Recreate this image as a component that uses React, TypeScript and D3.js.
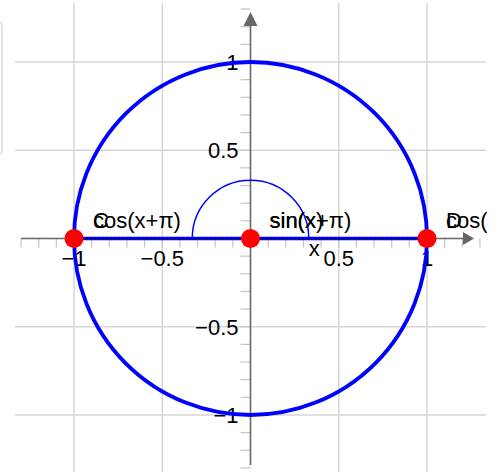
import React from 'react';
import * as d3 from 'd3';

// ticks and labels on the axes
const gridValues = [-1, -0.5, 0.5, 1];
const xTickLabels = ['−1', '−0.5', '0.5', '1'];
const yTickLabels = ['−1', '−0.5', '0.5', '1'];
const minorTicks = d3.range(-13, 14).map(i => i / 10);

// objects of the construction
const unitRadius = 1;
const angleRadius = 0.33;
const segment = [[-1, 0], [1, 0]];
const points = [
  { name: 'C', x: -1, y: 0 },
  { name: 'O', x: 0, y: 0 },
  { name: 'D', x: 1, y: 0 },
];
const pointCaptions = [
  ['C', 'cos(x+π)'],
  ['sin(x)', 'sin(x+π)'],
  ['D', 'cos(x)'],
];
const angleLabel = { text: 'x', x: 0.33, y: -0.1 };

const W = 498;
const H = 472;
const font = 'Liberation Sans, Arial, sans-serif';
const fs = 22;

export default function App() {
  const x = d3.scaleLinear().domain([-1, 1]).range([74, 427]);
  const y = d3.scaleLinear().domain([-1, 1]).range([415, 62]);
  const x0 = x(0);
  const y0 = y(0);
  const unit = x(1) - x(0);

  const circle = d3.arc()({
    innerRadius: unitRadius * unit,
    outerRadius: unitRadius * unit,
    startAngle: 0,
    endAngle: 2 * Math.PI,
  });
  const angleArc = d3.arc()({
    innerRadius: angleRadius * unit,
    outerRadius: angleRadius * unit,
    startAngle: -Math.PI / 2,
    endAngle: Math.PI / 2,
  });
  const line = d3.line().x(d => x(d[0])).y(d => y(d[1]));

  return (
    <svg width={W} height={H} style={{ position: 'absolute', left: 0, top: 0, display: 'block', background: '#fff' }}>
      <defs>
        <clipPath id="view">
          <rect x={15} y={3} width={472} height={469} />
        </clipPath>
      </defs>
      {/* panel edge at left */}
      <rect x={-20} y={22} width={22} height={133} rx={4} fill="#fff" stroke="#d5d9ea" strokeWidth={1.5} />
      <g clipPath="url(#view)">
        {gridValues.map(v => (
          <line key={'gx' + v} x1={x(v)} x2={x(v)} y1={3} y2={H} stroke="#d6d6d6" strokeWidth={1.5} />
        ))}
        {gridValues.map(v => (
          <line key={'gy' + v} x1={15} x2={486} y1={y(v)} y2={y(v)} stroke="#d6d6d6" strokeWidth={1.5} />
        ))}
        {minorTicks.map(v => (
          <line key={'tx' + v} x1={x(v)} x2={x(v)} y1={y0} y2={y0 + 9} stroke="#c4c4c4" strokeWidth={1.2} />
        ))}
        {minorTicks.map(v => (
          <line key={'ty' + v} x1={x0 - 10} x2={x0} y1={y(v)} y2={y(v)} stroke="#c4c4c4" strokeWidth={1.2} />
        ))}
        <line x1={21} x2={464} y1={y0} y2={y0} stroke="#666" strokeWidth={1.6} />
        <path d={`M${474},${y0} L${463},${y0 - 6.5} L${463},${y0 + 6.5} Z`} fill="#666" />
        <line x1={x0} x2={x0} y1={465} y2={25} stroke="#666" strokeWidth={1.6} />
        <path d={`M${x0},12 L${x0 - 7},26 L${x0 + 7},26 Z`} fill="#666" />
        {gridValues.map((v, i) => (
          <text key={'lx' + v} x={x(v)} y={y0 + 27} textAnchor="middle" fontFamily={font} fontSize={fs} fill="#000">
            {xTickLabels[i]}
          </text>
        ))}
        {gridValues.map((v, i) => (
          <text key={'ly' + v} x={x0 - 12} y={y(v)} dy="0.36em" textAnchor="end" fontFamily={font} fontSize={fs} fill="#000">
            {yTickLabels[i]}
          </text>
        ))}
        <path d={angleArc} transform={`translate(${x0},${y0})`} fill="none" stroke="#0000ff" strokeWidth={1.5} />
        <text x={x(angleLabel.x)} y={y(angleLabel.y)} fontFamily={font} fontSize={fs} fill="#000">{angleLabel.text}</text>
        <path d={circle} transform={`translate(${x0},${y0})`} fill="none" stroke="#0000ff" strokeWidth={3.8} />
        <path d={line(segment)} stroke="#0000ff" strokeWidth={3.5} fill="none" />
        <path d={line(segment)} stroke="#000" strokeWidth={1} strokeDasharray="2,2" fill="none" />
        {points.map(p => (
          <circle key={p.name} cx={x(p.x)} cy={y(p.y)} r={9.5} fill="#ff0000" />
        ))}
        {points.map((p, i) =>
          pointCaptions[i].map(t => (
            <text key={p.name + t} x={x(p.x) + 19} y={y(p.y) - 11} fontFamily={font} fontSize={fs} fill="#000">
              {t}
            </text>
          ))
        )}
      </g>
    </svg>
  );
}
